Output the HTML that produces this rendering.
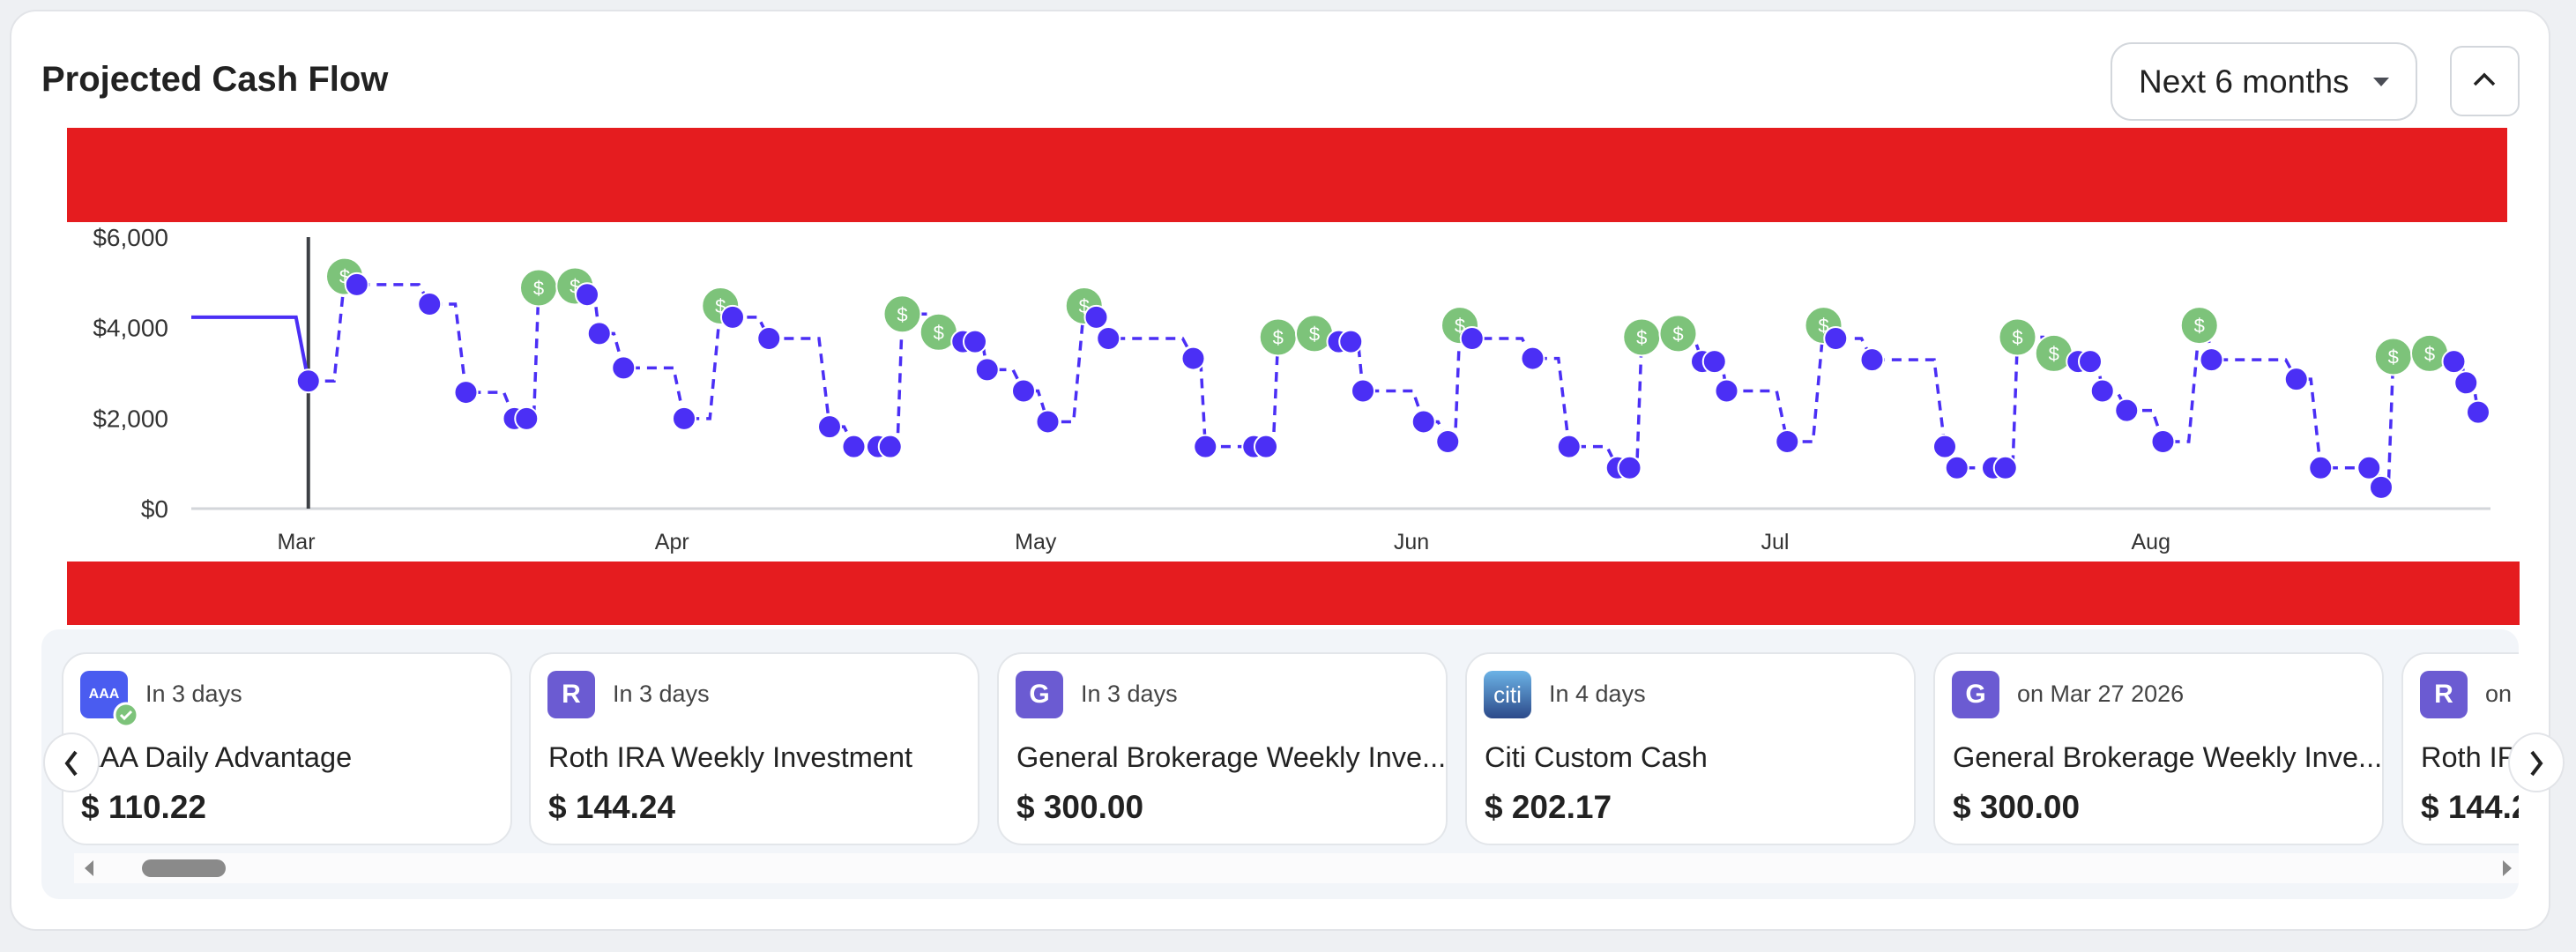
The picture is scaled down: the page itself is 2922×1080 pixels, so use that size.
<!DOCTYPE html>
<html><head><meta charset="utf-8">
<style>
html,body{margin:0;padding:0;width:2922px;height:1080px;background:#eef0f3;overflow:hidden;font-family:"Liberation Sans",sans-serif;color:#23262b}
.panel{position:absolute;left:11px;top:11px;width:2882px;height:1045px;background:#fff;border:2px solid #e2e4e8;border-radius:30px;box-sizing:border-box}
.title{position:absolute;left:47px;top:68px;font-size:40px;font-weight:bold;color:#222}
.dd{position:absolute;left:2394px;top:48px;width:348px;height:89px;border:2px solid #d3d7dc;border-radius:24px;box-sizing:border-box;font-size:37px;line-height:85px;padding-left:30px;color:#222}
.dd .car{position:absolute;left:296px;top:38px;width:0;height:0;border-left:9px solid transparent;border-right:9px solid transparent;border-top:10px solid #4a4d55}
.cb{position:absolute;left:2779px;top:52px;width:79px;height:80px;border:2px solid #d3d7dc;border-radius:14px;box-sizing:border-box}
.red{position:absolute;background:#e51c1f}
.carousel{position:absolute;left:47px;top:714px;width:2810px;height:306px;background:#f2f5f9;border-radius:20px;overflow:hidden}
.card{position:absolute;top:26px;width:511px;height:219px;background:#fff;border:2px solid #e3e6ea;border-radius:28px;box-sizing:border-box;overflow:hidden}
.ico{position:absolute;left:19px;top:19px;width:54px;height:54px;border-radius:10px;color:#fff;font-weight:bold;font-size:30px;text-align:center;line-height:54px}
.when{position:absolute;left:93px;top:30px;font-size:27px;color:#444;white-space:nowrap}
.nm{position:absolute;left:20px;top:99px;font-size:32.5px;color:#222;white-space:nowrap}
.amt{position:absolute;left:20px;top:153px;font-size:37px;font-weight:bold;color:#222;white-space:nowrap}
.sb{position:absolute;left:37px;top:254px;width:2773px;height:34px;background:#fbfbfc}
.arrow{position:absolute;width:64px;height:68px;border-radius:50%;background:#fff;border:2px solid #e2e4e8;box-sizing:border-box}
</style></head><body>
<div class="panel"></div>
<div class="title">Projected Cash Flow</div>
<div class="dd">Next 6 months<span class="car"></span></div>
<div class="cb"><svg width="75" height="76" style="position:absolute;left:0;top:0"><polyline points="26,42 37,31 48,42" fill="none" stroke="#222" stroke-width="3.5"/></svg></div>
<div class="red" style="left:76px;top:145px;width:2768px;height:107px"></div>
<div class="red" style="left:76px;top:637px;width:2782px;height:72px"></div>

<svg id="chart" width="2922" height="640" style="position:absolute;left:0;top:0"></svg>

<div class="carousel">
  <div class="card" style="left:23px"><div class="ico" style="background:#4a5cf0;font-size:16px">AAA</div><svg width="30" height="30" style="position:absolute;left:56px;top:54px"><circle cx="15" cy="15" r="13" fill="#7dc37a" stroke="#fff" stroke-width="3"/><polyline points="9,15 13,19 21,11" fill="none" stroke="#fff" stroke-width="3"/></svg><div class="when">In 3 days</div><div class="nm">AAA Daily Advantage</div><div class="amt">$ 110.22</div></div>
  <div class="card" style="left:553px"><div class="ico" style="background:#6b5bd2">R</div><div class="when">In 3 days</div><div class="nm">Roth IRA Weekly Investment</div><div class="amt">$ 144.24</div></div>
  <div class="card" style="left:1084px"><div class="ico" style="background:#6b5bd2">G</div><div class="when">In 3 days</div><div class="nm">General Brokerage Weekly Inve...</div><div class="amt">$ 300.00</div></div>
  <div class="card" style="left:1615px"><div class="ico" style="background:linear-gradient(#6cb3e6,#2c4a8a);font-size:26px;font-weight:normal">citi</div><div class="when">In 4 days</div><div class="nm">Citi Custom Cash</div><div class="amt">$ 202.17</div></div>
  <div class="card" style="left:2146px"><div class="ico" style="background:#6b5bd2">G</div><div class="when">on Mar 27 2026</div><div class="nm">General Brokerage Weekly Inve...</div><div class="amt">$ 300.00</div></div>
  <div class="card" style="left:2677px"><div class="ico" style="background:#6b5bd2">R</div><div class="when">on Mar 27 2026</div><div class="nm">Roth IRA Weekly Investment</div><div class="amt">$ 144.24</div></div>
  <div class="sb">
    <div style="position:absolute;left:12px;top:8px;width:0;height:0;border-top:9px solid transparent;border-bottom:9px solid transparent;border-right:10px solid #888"></div>
    <div style="position:absolute;left:77px;top:7px;width:95px;height:20px;border-radius:10px;background:#8a8a8a"></div>
    <div style="position:absolute;left:2755px;top:8px;width:0;height:0;border-top:9px solid transparent;border-bottom:9px solid transparent;border-left:10px solid #888"></div>
  </div>
</div>
<div class="arrow" style="left:49px;top:831px"><svg width="60" height="64"><polyline points="35,20 25,33 35,46" fill="none" stroke="#222" stroke-width="4"/></svg></div>
<div class="arrow" style="left:2845px;top:831px"><svg width="60" height="64"><polyline points="25,20 35,33 25,46" fill="none" stroke="#222" stroke-width="4"/></svg></div>

<script>
const days = [1,4,5,11,14,18,19,20,23,24,25,27,32,35,36,39,44,46,48,49,50,53,55,56,57,60,62,65,66,67,74,75,79,80,81,84,86,87,88,93,95,96,97,102,105,109,110,111,114,116,117,118,123,126,127,130,136,137,140,141,142,145,147,148,149,151,154,157,158,165,167,171,172,173,176,178,179,180];
const balances = [2820,5130,4950,4520,2570,1990,1990,4880,4920,4730,3870,3110,1990,4480,4230,3760,1810,1370,1370,1370,4300,3900,3690,3690,3070,2600,1920,4480,4230,3760,3320,1370,1370,1370,3790,3870,3690,3690,2600,1920,1480,4050,3760,3320,1370,900,900,3790,3870,3250,3250,2600,1480,4050,3760,3290,1370,900,900,900,3790,3430,3250,3250,2600,2170,1480,4050,3290,2860,900,900,470,3360,3430,3250,2780,2130];
const income = [0,1,0,0,0,0,0,1,1,0,0,0,0,1,0,0,0,0,0,0,1,1,0,0,0,0,0,1,0,0,0,0,0,0,1,1,0,0,0,0,0,1,0,0,0,0,0,1,1,0,0,0,0,1,0,0,0,0,0,0,1,1,0,0,0,0,0,1,0,0,0,0,0,1,1,0,0,0];
const pastBalance = 4230;
const yTicks = [0,2000,4000,6000];
const yTickLabels = ["$0","$2,000","$4,000","$6,000"];
const monthDays = [0,31,61,92,122,153];
const monthLabels = ["Mar","Apr","May","Jun","Jul","Aug"];
const todayDay = 1;

const NS="http://www.w3.org/2000/svg";
const svg=document.getElementById('chart');
const X0=336, PXD=13.75, Y0=577, PXV=308/6000, XL=217, XR=2825;
const xs=d=>X0+d*PXD, ys=v=>Y0-v*PXV;
function mk(t,a,p){const e=document.createElementNS(NS,t);for(const k in a)e.setAttribute(k,a[k]);(p||svg).appendChild(e);return e;}

yTicks.forEach((v,i)=>{
  const t=mk('text',{x:191,y:ys(v)+10,'text-anchor':'end','font-size':28,fill:'#333','font-family':'Liberation Sans, sans-serif'});
  t.textContent=yTickLabels[i];
  
  
});
const ax=mk('line',{x1:XL,x2:XR,y1:Y0,y2:Y0,stroke:'#d3d6da','stroke-width':3});


monthDays.forEach((d,i)=>{
  const t=mk('text',{x:xs(d),y:623,'text-anchor':'middle','font-size':25,fill:'#333','font-family':'Liberation Sans, sans-serif'});
  t.textContent=monthLabels[i];
  
  
});
const tl=mk('line',{x1:xs(todayDay),x2:xs(todayDay),y1:269,y2:Y0,stroke:'#3d4045','stroke-width':4});



const past=mk('polyline',{points:`${XL},${ys(pastBalance)} ${xs(todayDay)-14},${ys(pastBalance)} ${xs(days[0])},${ys(balances[0])}`,fill:'none',stroke:'#4b2ff5','stroke-width':4});



let pts=[[xs(days[0]),ys(balances[0])]];
for(let i=1;i<days.length;i++){
  const xa=xs(days[i-1]), xb=xs(days[i]);
  const xm=Math.max(xa, xb-Math.min(12,(xb-xa)*0.4));
  pts.push([xm,ys(balances[i-1])]);
  pts.push([xb,ys(balances[i])]);
}
const pl=mk('polyline',{points:pts.map(p=>p.join(',')).join(' '),fill:'none',stroke:'#4b2ff5','stroke-width':3.5,'stroke-dasharray':'11 8'});



days.forEach((d,i)=>{
  if(!income[i])return;
  const g=mk('g',{});
  
  
  mk('circle',{cx:xs(d),cy:ys(balances[i]),r:21,fill:'#7dc37a',stroke:'#fff','stroke-width':2},g);
  const t=mk('text',{x:xs(d),y:ys(balances[i])+8,'text-anchor':'middle','font-size':22,fill:'#fff','font-family':'Liberation Sans, sans-serif'},g);
  t.textContent='$';
});
days.forEach((d,i)=>{
  if(income[i])return;
  const c=mk('circle',{cx:xs(d),cy:ys(balances[i]),r:13,fill:'#4b2ff5',stroke:'#fff','stroke-width':2});
  
  
});
</script>
</body></html>
